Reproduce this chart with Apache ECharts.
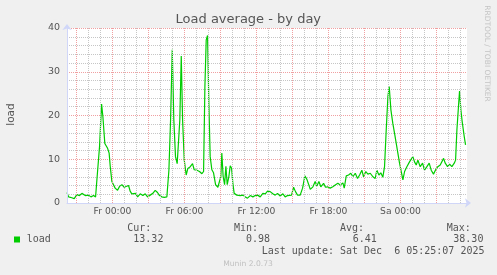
<!DOCTYPE html>
<html><head><meta charset="utf-8">
<script src="https://cdn.jsdelivr.net/npm/echarts@6/dist/echarts.min.js"></script>
<style>html,body{margin:0;padding:0;background:#f0f0f0}#c{width:497px;height:275px}</style>
</head><body><div id="c"></div>
<script>
// hours relative to Fri 00:00
const hours = [
 -3.79,-3.66,-3.39,-3.19,-2.97,-2.75,-2.55,-2.27,-1.99,-1.80,-1.58,-1.41,-1.30,-1.08,-0.91,-0.80,-0.64,-0.41,-0.28,-0.19,-0.05,
 0.09,0.22,0.42,0.59,0.78,0.98,1.14,1.34,1.47,1.61,1.75,1.92,2.09,2.31,2.53,2.73,2.92,3.14,3.36,3.56,3.75,3.92,
 4.11,4.31,4.53,4.70,4.84,4.98,5.11,5.25,5.39,5.53,5.61,5.73,5.84,5.98,6.14,6.28,6.48,6.67,6.81,7.03,7.25,7.45,7.59,
 7.70,7.81,7.92,8.03,8.14,8.28,8.42,8.59,8.78,8.92,9.03,9.11,9.22,9.34,9.45,9.56,9.70,9.81,9.92,10.03,10.14,10.36,
 10.64,10.86,11.06,11.25,11.48,11.70,11.89,12.09,12.31,12.53,12.73,12.92,
 13.14,13.36,13.56,13.75,13.97,14.20,14.39,14.59,14.75,14.92,15.09,15.25,15.42,15.64,15.84,16.03,16.20,16.34,16.48,
 16.70,16.89,17.03,17.20,17.36,17.59,17.75,17.92,18.14,18.36,18.56,18.78,18.98,19.20,19.31,19.48,19.67,19.86,20.03,
 20.23,20.42,20.59,20.78,20.92,21.11,21.28,21.48,21.70,21.89,22.03,22.20,22.36,22.53,22.67,22.81,22.95,23.06,23.20,
 23.36,23.53,23.64,23.78,23.92,24.06,24.20,24.34,24.53,24.75,24.89,25.03,25.17,25.31,25.45,25.64,25.84,26.00,26.20,
 26.39,26.56,26.75,26.95,27.11,27.31,27.45,27.59,27.73,27.92,28.09,28.28,28.48,28.59,28.70,28.84,28.92,29.03,29.14,
 29.31,29.42
];
const loadValues = [
 2.4,1.4,1.2,1.0,1.9,1.7,2.2,1.7,1.8,1.4,1.7,1.4,5.3,12.9,22.6,19.7,13.6,12.5,11.4,8.4,4.9,
 4.5,3.4,2.9,3.8,4.2,3.6,3.8,4.0,2.7,2.1,1.7,2.2,1.4,2.1,1.7,2.1,1.4,1.8,2.2,2.9,2.4,1.7,
 1.4,1.3,1.4,7.5,19.0,35.0,19.0,10.6,9.0,9.1,19.0,33.6,19.0,9.8,6.4,7.9,8.3,9.0,7.6,7.5,7.2,6.7,7.2,
 26.6,37.3,38.3,22.8,10.6,7.6,6.9,4.2,3.6,3.4,6.1,11.4,6.1,4.2,8.4,4.2,6.1,8.5,8.0,4.5,2.2,1.8,
 1.7,1.8,1.4,1.1,1.7,1.4,1.7,1.8,1.4,2.2,2.1,2.7,
 2.6,2.1,1.8,2.2,1.6,2.1,1.4,1.7,1.3,1.8,3.6,2.6,1.8,1.8,3.4,6.2,5.4,4.3,3.1,
 3.7,4.9,3.9,4.9,3.7,4.5,3.6,3.7,3.4,3.7,4.1,4.5,4.1,4.6,3.4,6.2,6.4,6.8,6.0,
 6.8,5.6,6.4,7.5,6.0,7.2,6.6,6.8,6.0,5.6,7.5,6.4,6.9,5.9,8.3,16.7,24.3,26.6,21.3,
 18.2,15.5,15.3,11.4,9.1,8.7,5.3,7.2,8.3,9.4,9.1,10.6,9.4,8.7,9.8,8.3,9.1,7.5,8.3,
 9.1,7.5,6.6,7.7,8.3,8.7,8.3,10.2,9.1,8.3,8.9,8.3,9.1,9.8,16.7,22.4,25.6,21.3,18.6,
 15.2,13.3
];
const xLabelHours = [0, 6, 12, 18, 24];
const xLabelText = ['Fr 00:00', 'Fr 06:00', 'Fr 12:00', 'Fr 18:00', 'Sa 00:00'];
const majorXHours = [-3, 0, 3, 6, 9, 12, 15, 18, 21, 24, 27];
const minorXHours = [-2, -1, 1, 2, 4, 5, 7, 8, 10, 11, 13, 14, 16, 17, 19, 20, 22, 23, 25, 26, 28, 29];
const seriesName = 'load';
const legendHeaders = ['Cur:', 'Min:', 'Avg:', 'Max:'];
const legendStats = ['13.32', '0.98', '6.41', '38.30'];
const lastUpdate = 'Last update: Sat Dec  6 05:25:07 2025';
const titleText = 'Load average - by day';
const yName = 'load';
const watermark = 'RRDTOOL / TOBI OETIKER';
const versionText = 'Munin 2.0.73';

const X_MIN = -3.7917, X_MAX = X_MIN + 400 / 12;
const FONT = 'DejaVu Sans';
const MONO = 'DejaVu Sans Mono';
const TXT = '#555';
const AXIS = '#cfd6f8';
const MINOR_C = '#c6c6c6';
const MAJOR_C = '#f0a0a0';

const data = hours.map((h, i) => [h, loadValues[i]]);

const chart = echarts.init(document.getElementById('c'), null, { renderer: 'canvas' });

const hdrX = [127.3, 234, 340, 446.7];
const valX = [133.3, 246, 352.7, 453.3];
const graphics = [
  { type: 'text', x: 248.3, y: 19.5, style: { text: titleText, fontFamily: FONT, fontSize: 13, fill: TXT, align: 'center', verticalAlign: 'middle' } },
  { type: 'text', x: 11, y: 114.5, rotation: Math.PI / 2, style: { text: yName, fontFamily: FONT, fontSize: 10.5, fill: TXT, align: 'center', verticalAlign: 'middle' } },
  { type: 'text', x: 487, y: 53.5, rotation: -Math.PI / 2, style: { text: watermark, fontFamily: FONT, fontSize: 7.5, fill: '#c4c4c4', align: 'center', verticalAlign: 'middle' } },
  { type: 'rect', shape: { x: 14, y: 236.5, width: 6, height: 6 }, style: { fill: '#00cc00' } },
  { type: 'text', x: 26.7, y: 239.5, style: { text: seriesName, fontFamily: MONO, fontSize: 10, fill: TXT, align: 'left', verticalAlign: 'middle' } },
  { type: 'text', x: 261.7, y: 251.7, style: { text: lastUpdate, fontFamily: MONO, fontSize: 10, fill: TXT, align: 'left', verticalAlign: 'middle' } },
  { type: 'text', x: 248, y: 264, style: { text: versionText, fontFamily: FONT, fontSize: 7.6, fill: '#c0c0c0', align: 'center', verticalAlign: 'middle' } }
];
legendHeaders.forEach((h, i) => graphics.push({ type: 'text', x: hdrX[i], y: 228, style: { text: h, fontFamily: MONO, fontSize: 10, fill: TXT, align: 'left', verticalAlign: 'middle' } }));
legendStats.forEach((s, i) => graphics.push({ type: 'text', x: valX[i], y: 239.5, style: { text: s, fontFamily: MONO, fontSize: 10, fill: TXT, align: 'left', verticalAlign: 'middle' } }));

function gridSeries(list, color, z) {
  return {
    type: 'line', data: [], xAxisIndex: 0, yAxisIndex: 0, silent: true, z: z, color: color,
    markLine: {
      silent: true, animation: false, symbol: ['none', 'none'], label: { show: false },
      emphasis: { disabled: true },
      lineStyle: { color: color, type: [1, 1], width: 1, opacity: 1 },
      data: list.map(h => ({ xAxis: h }))
    }
  };
}

chart.setOption({
  animation: false,
  backgroundColor: '#f0f0f0',
  grid: { left: 67, top: 28, width: 400, height: 175, show: true, backgroundColor: '#ffffff', borderWidth: 0 },
  xAxis: [
    { type: 'value', min: X_MIN, max: X_MAX, position: 'bottom', z: 5,
      axisLine: { show: true, onZero: false, lineStyle: { color: AXIS, width: 1 }, symbol: ['none', 'arrow'], symbolSize: [7, 6], symbolOffset: [0, 4] },
      axisTick: { show: false, customValues: xLabelHours },
      axisLabel: { show: true, customValues: xLabelHours, margin: 4, color: TXT, fontFamily: FONT, fontSize: 9.2,
        formatter: v => { const i = xLabelHours.indexOf(Math.round(v)); return i >= 0 ? xLabelText[i] : ''; } },
      splitLine: { show: false } }
  ],
  yAxis: [
    { type: 'value', min: 0, max: 40, interval: 2, position: 'left', z: 0,
      axisLine: { show: false }, axisTick: { show: false },
      axisLabel: { show: false },
      splitLine: { show: true, lineStyle: { color: MINOR_C, type: [1, 1], width: 1 } } },
    { type: 'value', min: 0, max: 40, interval: 10, position: 'left', z: 1,
      axisLine: { show: false }, axisTick: { show: false },
      axisLabel: { show: true, margin: 7, color: TXT, fontFamily: FONT, fontSize: 9.5 },
      splitLine: { show: true, lineStyle: { color: MAJOR_C, type: [1, 1], width: 1 } } },
    { type: 'value', min: 0, max: 40, position: 'left', z: 5,
      axisLine: { show: true, onZero: false, lineStyle: { color: AXIS, width: 1 }, symbol: ['none', 'arrow'], symbolSize: [7, 6], symbolOffset: [0, 4] },
      axisTick: { show: false }, axisLabel: { show: false }, splitLine: { show: false } }
  ],
  series: [
    gridSeries(minorXHours, MINOR_C, 1),
    gridSeries(majorXHours, MAJOR_C, 2),
    {
      name: seriesName, type: 'line', xAxisIndex: 0, yAxisIndex: 0, data: data,
      showSymbol: false, symbol: 'none', silent: true, z: 3,
      lineStyle: { color: '#00cc00', width: 1.2 }
    }
  ],
  graphic: graphics
});
</script>
</body></html>
